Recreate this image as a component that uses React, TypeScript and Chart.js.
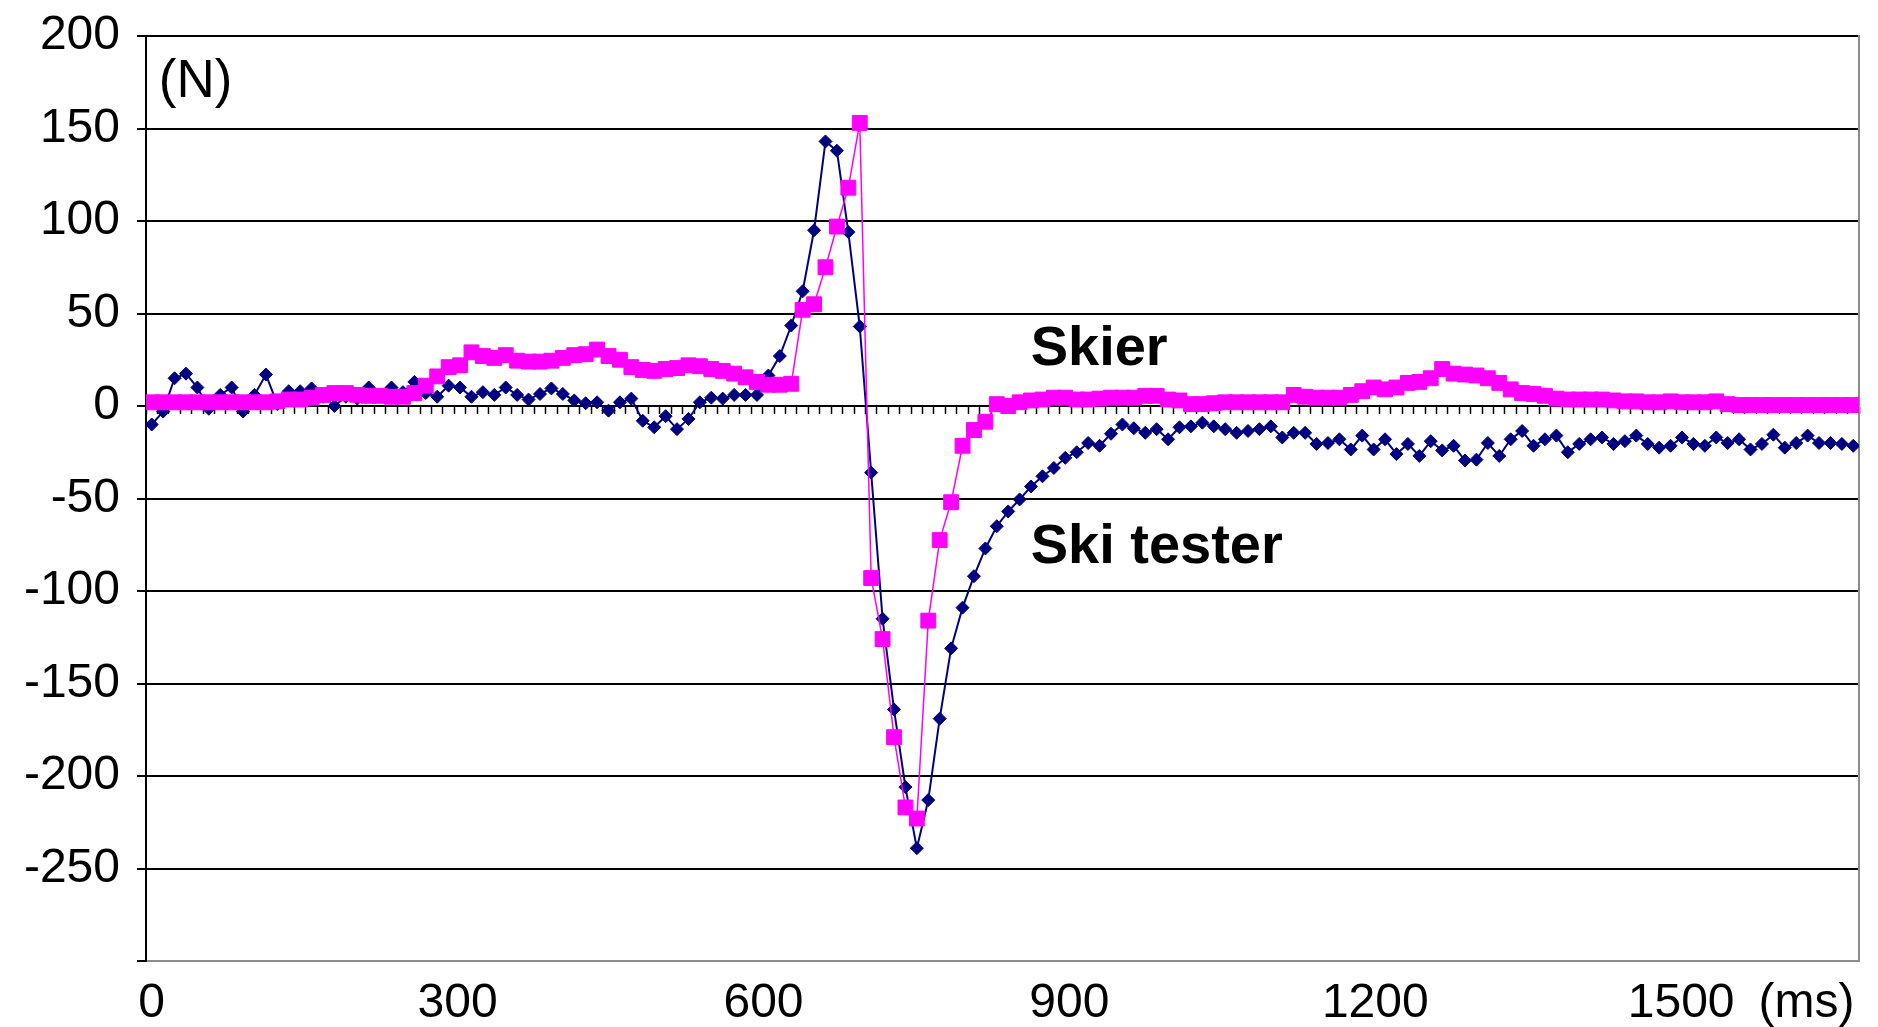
import React, { useEffect, useRef } from 'react';
import { Chart, registerables } from 'chart.js';

Chart.register(...registerables);

// ---- data ----
const SAMPLE_MS = 11.2; // sampling interval (ms)

const SKI_TESTER = [
  -10, -3, 15, 17.5, 10, -1.5, 6, 10, -3, 6,
  17, 1, 8, 8, 9.5, 5, 0, 5, 4, 10,
  6, 10, 7.5, 13, 7, 5, 11, 10, 5, 7.5,
  6, 10, 6, 3.5, 6.5, 9.5, 6.5, 3, 1.5, 2,
  -2.5, 2, 4, -8, -11.5, -5.5, -12.5, -7, 2, 4.5,
  4, 6, 6, 6, 16.5, 27, 43.5, 62, 95, 143,
  138, 94, 43, -36, -115, -164, -206, -239, -213, -169,
  -131, -109, -92, -77, -65, -57, -50.5, -43.5, -38, -33.5,
  -28, -25, -20, -21.5, -15, -10, -12, -14.5, -12.5, -18,
  -11.5, -11, -9, -11, -12.5, -14.5, -13.5, -12.5, -11, -17,
  -14.5, -14.5, -20.5, -20, -18, -23.5, -16, -23.5, -18, -26,
  -20.5, -27, -19, -24, -21.5, -29.5, -29, -20, -27, -18,
  -13.5, -21.5, -18, -16, -25, -20.5, -18, -17, -20.5, -19,
  -16, -20.5, -22.5, -21.5, -17, -20.5, -21.5, -17, -20, -18,
  -23.5, -20.5, -15.5, -22.5, -20, -16, -20, -20, -20.5, -21.5,
];

const SKIER = [
  2, 2, 2, 2, 2, 2, 2, 2, 2, 2,
  2, 2.5, 3.5, 3.5, 4.5, 6, 7, 7, 6, 5.5,
  5.5, 5, 5, 7, 11, 16, 21, 22, 29, 27,
  26, 27.5, 24.5, 24, 24, 24.5, 26, 27.5, 28, 30.5,
  27, 25, 21, 19.5, 19, 20, 20.5, 22, 21.5, 20,
  19, 17.5, 15.5, 13, 11.5, 11.5, 12, 52, 55, 75,
  97, 118, 153, -93, -126, -179, -217, -223, -116, -72.5,
  -52, -21.5, -13, -8.5, 1, 0, 2, 3, 3.5, 4.5,
  4.5, 3.5, 3.5, 4, 4.5, 4.5, 4.5, 5.5, 5.5, 3.5,
  3, 1, 1, 1.5, 2, 2, 2, 2, 2, 2,
  6, 5, 4.5, 4.5, 4.5, 6, 8, 10, 9, 10,
  12.5, 13, 15, 20, 17.5, 17, 16.5, 15, 12.5, 9,
  7, 6.5, 5.5, 4, 3.5, 3.5, 3.5, 3.5, 3, 2.5,
  2.5, 2, 2, 2.5, 2, 2, 2, 2.5, 1, 0.5,
  0.5, 0.5, 0.5, 0.5, 0.5, 0.5, 0.5, 0.5, 0.5, 0.5,
];

const X_TICKS = [0, 300, 600, 900, 1200, 1500];
const X_UNIT = '(ms)';
const Y_MIN = -300;
const Y_MAX = 200;
const Y_STEP = 50;
const Y_UNIT = '(N)';

const SERIES_NAMES = ['Skier', 'Ski tester'];

// text labels placed in data coordinates (ms, N)
const NOTES = [
  { text: Y_UNIT, x: 7, y: 167, bold: false, size: 53 },
  { text: 'Skier', x: 862, y: 22, bold: true, size: 56 },
  { text: 'Ski tester', x: 862, y: -85, bold: true, size: 56 },
];

const FONT = '"Liberation Sans", Arial, Helvetica, sans-serif';
const N = SKIER.length;
const X_MIN = -SAMPLE_MS / 2;
const X_MAX = (N - 0.5) * SAMPLE_MS;
const LABEL_PAD = 14;
const LABEL_SIZE = 48;

const textPlugin = {
  id: 'textNotes',
  afterDraw(chart: any) {
    const { ctx, scales } = chart;
    const xs = scales.x;
    const ys = scales.y;
    ctx.save();
    ctx.fillStyle = '#000';
    ctx.textAlign = 'left';
    ctx.textBaseline = 'alphabetic';
    for (const n of NOTES) {
      ctx.font = `${n.bold ? 'bold ' : ''}${n.size}px ${FONT}`;
      ctx.fillText(n.text, xs.getPixelForValue(n.x), ys.getPixelForValue(n.y));
    }
    // unit after last x tick label
    ctx.font = `${LABEL_SIZE}px ${FONT}`;
    const last = X_TICKS[X_TICKS.length - 1];
    const lw = ctx.measureText(String(last)).width;
    ctx.textBaseline = 'middle';
    ctx.fillText(
      X_UNIT,
      xs.getPixelForValue(last) + lw / 2 + LABEL_SIZE * 0.5,
      xs.top + LABEL_PAD + (LABEL_SIZE * 1.2) / 2
    );
    ctx.restore();
  },
};

export default function App() {
  const ref = useRef<HTMLCanvasElement | null>(null);

  useEffect(() => {
    if (!ref.current) return;
    const times = SKIER.map((_, i) => i * SAMPLE_MS);
    const boundaries: number[] = [];
    for (let k = 0; k <= N; k++) boundaries.push((k - 0.5) * SAMPLE_MS);

    const chart = new Chart(ref.current, {
      type: 'line',
      data: {
        datasets: [
          {
            label: SERIES_NAMES[0],
            data: SKIER.map((v, i) => ({ x: times[i], y: v })),
            borderColor: '#FF00FF',
            backgroundColor: '#FF00FF',
            borderWidth: 1.5,
            pointStyle: 'rect',
            pointRadius: 10.5,
            pointBorderWidth: 1,
            pointBorderColor: '#FF00FF',
            pointBackgroundColor: '#FF00FF',
            tension: 0,
            xAxisID: 'x',
            yAxisID: 'y',
          },
          {
            label: SERIES_NAMES[1],
            data: SKI_TESTER.map((v, i) => ({ x: times[i], y: v })),
            borderColor: '#000080',
            backgroundColor: '#000080',
            borderWidth: 2,
            pointStyle: 'rectRot',
            pointRadius: 6.5,
            pointBorderWidth: 1,
            pointBorderColor: '#000080',
            pointBackgroundColor: '#000080',
            tension: 0,
            xAxisID: 'x',
            yAxisID: 'y',
          },
        ],
      },
      options: {
        animation: false,
        responsive: false,
        devicePixelRatio: 1,
        layout: { padding: { top: 36, right: 19, bottom: 0, left: 0 } },
        plugins: {
          legend: { display: false },
          tooltip: { enabled: false },
          title: { display: false },
        },
        scales: {
          x: {
            type: 'linear',
            position: 'bottom',
            min: X_MIN,
            max: X_MAX,
            afterBuildTicks: (s: any) => {
              s.ticks = X_TICKS.map((v) => ({ value: v }));
            },
            afterFit: (s: any) => {
              s.height = 66;
              s.paddingLeft = 0;
              s.paddingRight = 0;
            },
            ticks: {
              autoSkip: false,
              maxRotation: 0,
              padding: LABEL_PAD,
              color: '#000',
              font: { family: FONT, size: LABEL_SIZE },
              callback: (v: any) => String(v),
            },
            grid: { drawOnChartArea: false, drawTicks: false },
            border: { display: true, color: '#8c8c8c', width: 2 },
          },
          x2: {
            type: 'linear',
            position: { y: 0 } as any,
            min: X_MIN,
            max: X_MAX,
            afterBuildTicks: (s: any) => {
              s.ticks = boundaries.map((v) => ({ value: v }));
            },
            ticks: { display: false },
            grid: {
              drawOnChartArea: false,
              drawTicks: true,
              tickLength: 7,
              tickWidth: 1.5,
              tickColor: '#000',
            },
            border: { display: true, color: '#000', width: 2 },
          },
          y: {
            type: 'linear',
            position: 'left',
            min: Y_MIN,
            max: Y_MAX,
            afterFit: (s: any) => {
              s.width = 146;
              s.paddingTop = 0;
              s.paddingBottom = 0;
            },
            ticks: {
              stepSize: Y_STEP,
              padding: 17,
              color: '#000',
              font: { family: FONT, size: LABEL_SIZE },
              callback: (v: any) => (v === Y_MIN ? '' : String(v)),
            },
            grid: {
              color: (c: any) => (c.tick && c.tick.value === Y_MIN ? '#8c8c8c' : '#000'),
              lineWidth: 2,
              tickLength: 9,
              tickColor: '#000',
              tickWidth: 2,
            },
            border: { display: true, color: '#000', width: 2 },
          },
          yR: {
            type: 'linear',
            position: 'right',
            min: Y_MIN,
            max: Y_MAX,
            afterFit: (s: any) => {
              s.width = 0;
              s.paddingTop = 0;
              s.paddingBottom = 0;
            },
            ticks: { display: false },
            grid: { drawOnChartArea: false, drawTicks: false },
            border: { display: true, color: '#8c8c8c', width: 2 },
          },
        },
      },
      plugins: [textPlugin],
    } as any);
    return () => chart.destroy();
  }, []);

  return (
    <div style={{ position: 'fixed', left: 0, top: 0, width: 1878, height: 1027, background: '#fff' }}>
      <canvas ref={ref} width={1878} height={1027} style={{ display: 'block' }} />
    </div>
  );
}
